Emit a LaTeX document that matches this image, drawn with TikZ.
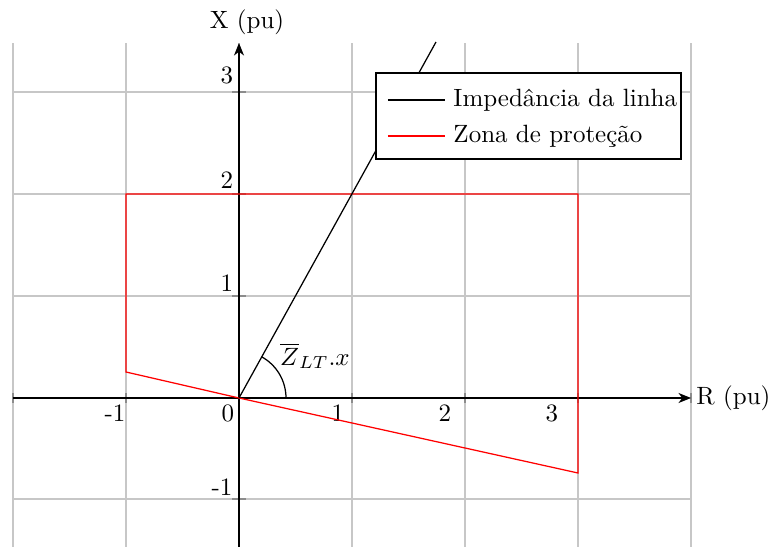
\documentclass[tikz,border=0pt]{standalone}
\usepackage{amsmath}
\usetikzlibrary{arrows.meta}
\begin{document}
\begin{tikzpicture}[x=0.4pt,y=0.4pt,
  gridline/.style={draw=black!22, line width=0.45pt},
  tickmark/.style={draw=black!45, line width=0.45pt},
  axisline/.style={draw=black, line width=0.5pt, -{Stealth[length=5pt,width=4pt,inset=1.5pt]}},
  lbl/.style={inner sep=0pt, font=\normalsize},
  zone/.style={draw=red, line width=0.5pt},
  imped/.style={draw=black, line width=0.5pt}]
\useasboundingbox (-239,-149) rectangle (530,398);
% grid
\foreach \gx in {-226,-113,0,113,226,339,452} \draw[gridline] (\gx,-149) -- (\gx,355);
\foreach \gy in {306,204,102,0,-101} \draw[gridline] (-226,\gy) -- (452,\gy);
% ticks
\foreach \gx in {-226,-113,113,226,339,452} \draw[tickmark] (\gx,-5) -- (\gx,5);
\foreach \gy in {306,204,102,-101} \draw[tickmark] (-7,\gy) -- (7,\gy);
% axes
\coordinate (xs) at (-226,0); \coordinate (xe) at (452,0);
\coordinate (ys) at (0,-149); \coordinate (ye) at (0,355);
\draw[axisline] (xs) -- (xe);
\draw[axisline] (ys) -- (ye);
\node[lbl, anchor=west] (rlab) at (457,0) {R (pu)};
\node[lbl] (xlab) at (8,376) {X (pu)};
% tick labels
\node[lbl] (tx-1) at (-124,-15) {-1};
\node[lbl] (tx0) at (-11,-15) {0};
\node[lbl] (tx1) at (99,-15) {1};
\node[lbl] (tx2) at (206,-15) {2};
\node[lbl] (tx3) at (313,-15) {3};
\node[lbl] (ty3) at (-12,323) {3};
\node[lbl] (ty2) at (-12,218) {2};
\node[lbl] (ty1) at (-12,115) {1};
\node[lbl] (ty-1) at (-17,-89) {-1};
% zone
\coordinate (o) at (0,0);
\coordinate (za) at (-113,26);
\coordinate (zb) at (-113,204);
\coordinate (zc) at (339,204);
\coordinate (zd) at (339,-75);
\draw[zone] (o) -- (za) -- (zb) -- (zc) -- (zd) -- cycle;
% impedance line
\coordinate (le) at (197,356);
\draw[imped] (o) -- (le);
\draw[imped] (47,0) arc[start angle=0, end angle=61, radius=47];
\node[lbl] (zlab) at (76,42) {$\overline{Z}_{LT}.x$};
% legend
\node[draw=black, fill=white, line width=0.5pt, minimum width=305*0.4pt, minimum height=86*0.4pt, inner sep=0pt] (leg) at (289.5,282) {};
\coordinate (l1a) at (149,298); \coordinate (l1b) at (206,298);
\coordinate (l2a) at (149,262); \coordinate (l2b) at (206,262);
\draw[imped] (l1a) -- (l1b);
\draw[zone] (l2a) -- (l2b);
\node[lbl, anchor=west] (leg1) at (214,298) {Impedância da linha};
\node[lbl, anchor=west] (leg2) at (214,262) {Zona de proteção};
\end{tikzpicture}
\end{document}
